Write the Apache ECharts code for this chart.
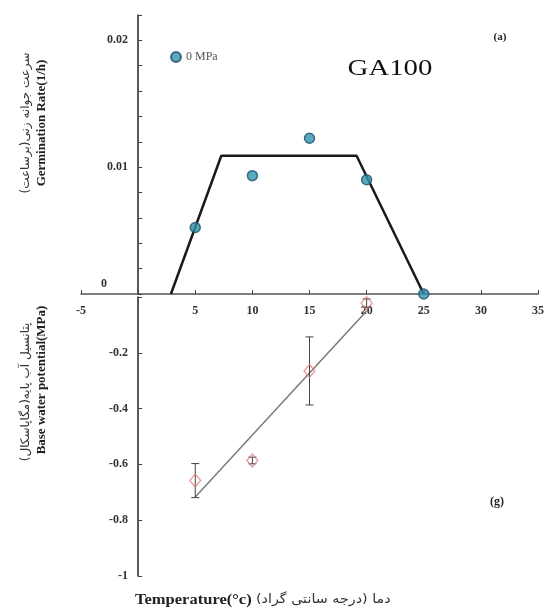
<!DOCTYPE html>
<html><head><meta charset="utf-8">
<script src="https://cdn.jsdelivr.net/npm/echarts@6/dist/echarts.min.js"></script>
<style>html,body{margin:0;background:#fff}#c{width:547px;height:610px}</style>
</head><body><div id="c"></div>
<script>
// ---- data ----
const temps = [5, 10, 15, 20, 25];
const rate0MPa = [0.00524, 0.00933, 0.01228, 0.00901, 0];
const rateModelX = [2.87, 7.28, 19.12, 25];
const rateModelY = [0, 0.0109, 0.0109, 0];
const baseTemps = [5, 10, 15, 20];
const baseWP = [-0.658, -0.586, -0.265, -0.022];
const baseErr = [0.061, 0.012, 0.122, 0.015];
const fitX = [5, 20];
const fitY = [-0.717, -0.05];

const serif = 'Liberation Serif';
const chart = echarts.init(document.getElementById('c'));

function errItem(params, api) {
  const x = api.value(0), y = api.value(1), e = api.value(2);
  const t = api.coord([x, y + e]), b = api.coord([x, y - e]);
  const w = 4, st = {stroke: '#444', lineWidth: 1};
  return {type: 'group', children: [
    {type: 'line', shape: {x1: t[0], y1: t[1], x2: b[0], y2: b[1]}, style: st},
    {type: 'line', shape: {x1: t[0] - w, y1: t[1], x2: t[0] + w, y2: t[1]}, style: st},
    {type: 'line', shape: {x1: b[0] - w, y1: b[1], x2: b[0] + w, y2: b[1]}, style: st}
  ]};
}

const option = {
  backgroundColor: '#fff',
  animation: false,
  grid: [
    {left: 81, right: 9, top: 15, height: 279},
    {left: 81, right: 9, top: 297, height: 279}
  ],
  legend: {
    data: ['0 MPa'], left: 165, top: 46, icon: 'circle', itemWidth: 10, itemHeight: 10,
    textStyle: {fontFamily: serif, fontSize: 12, color: '#555'}
  },
  xAxis: [
    {gridIndex: 0, type: 'value', min: -5, max: 35, interval: 5,
     axisLine: {onZero: true, lineStyle: {color: '#555', width: 1.5}},
     axisTick: {inside: true, length: 4, lineStyle: {color: '#444'}},
     axisLabel: {fontFamily: serif, fontWeight: 'bold', fontSize: 12, color: '#333', margin: 11,
                 formatter: v => v === 0 ? '' : String(v)},
     splitLine: {show: false}},
    {gridIndex: 1, type: 'value', min: -5, max: 35, interval: 5, show: false, splitLine: {show: false}}
  ],
  yAxis: [
    {gridIndex: 0, type: 'value', min: 0, max: 0.022, interval: 0.002,
     axisLine: {show: true, onZero: true, lineStyle: {color: '#222', width: 1.5}},
     axisTick: {inside: true, length: 4, lineStyle: {color: '#444'}},
     axisLabel: {fontFamily: serif, fontWeight: 'bold', fontSize: 12, color: '#333', margin: -47,
                 formatter: v => {
                   const k = Math.round(v * 1000);
                   if (k % 10 !== 0) return '';
                   if (k === 0) return '{z|0}';
                   return (k / 1000).toFixed(2);
                 },
                 rich: {z: {fontFamily: serif, fontWeight: 'bold', fontSize: 12, color: '#333', padding: [0, 21, 20, 0]}}},
     splitLine: {show: false}},
    {gridIndex: 1, type: 'value', min: -1, max: 0, interval: 0.2,
     axisLine: {show: true, onZero: true, lineStyle: {color: '#222', width: 1.5}},
     axisTick: {inside: true, length: 4, lineStyle: {color: '#444'}},
     axisLabel: {fontFamily: serif, fontWeight: 'bold', fontSize: 12, color: '#333', margin: -47,
                 formatter: v => Math.abs(v) < 1e-9 ? '' : (Math.abs(v + 1) < 1e-9 ? '-1' : v.toFixed(1))},
     splitLine: {show: false}}
  ],
  series: [
    {name: 'model', type: 'line', xAxisIndex: 0, yAxisIndex: 0, symbol: 'none',
     lineStyle: {color: '#1a1a1a', width: 2.5}, z: 2,
     data: rateModelX.map((x, i) => [x, rateModelY[i]])},
    {name: '0 MPa', type: 'scatter', xAxisIndex: 0, yAxisIndex: 0, symbol: 'circle', symbolSize: 10,
     itemStyle: {color: '#3394ae', borderColor: '#1e4f6c', borderWidth: 1.5}, z: 3,
     data: temps.map((t, i) => [t, rate0MPa[i]])},
    {name: 'fit', type: 'line', xAxisIndex: 1, yAxisIndex: 1, symbol: 'none',
     lineStyle: {color: '#7a7a7a', width: 1.5}, z: 2,
     data: fitX.map((x, i) => [x, fitY[i]])},
    {name: 'err', type: 'custom', xAxisIndex: 1, yAxisIndex: 1, renderItem: errItem, z: 3,
     data: baseTemps.map((t, i) => [t, baseWP[i], baseErr[i]])},
    {name: 'base', type: 'scatter', xAxisIndex: 1, yAxisIndex: 1, symbol: 'diamond', symbolSize: [11, 13],
     itemStyle: {color: 'rgba(255,255,255,0)', borderColor: '#e07878', borderWidth: 1.2}, z: 4,
     data: baseTemps.map((t, i) => [t, baseWP[i]])}
  ],
  graphic: [
    {type: 'text', x: 390, y: 69, scaleX: 1.2,
     style: {text: 'GA100', fontFamily: serif, fontSize: 24, fill: '#111', align: 'center', verticalAlign: 'middle'}},
    {type: 'text', x: 500, y: 37, style: {text: '(a)', fontFamily: serif, fontWeight: 'bold', fontSize: 11, fill: '#222', align: 'center', verticalAlign: 'middle'}},
    {type: 'text', x: 497, y: 502, style: {text: '(g)', fontFamily: serif, fontWeight: 'bold', fontSize: 12, fill: '#222', align: 'center', verticalAlign: 'middle'}},
    {type: 'text', x: 26, y: 123, rotation: Math.PI / 2,
     style: {text: 'سرعت جوانه زنی(برساعت)', fontFamily: 'DejaVu Sans', fontSize: 12, fill: '#333', align: 'center', verticalAlign: 'middle'}},
    {type: 'text', x: 42, y: 123, rotation: Math.PI / 2,
     style: {text: 'Germination Rate(1/h)', fontFamily: serif, fontWeight: 'bold', fontSize: 13, fill: '#222', align: 'center', verticalAlign: 'middle'}},
    {type: 'text', x: 26, y: 392, rotation: Math.PI / 2,
     style: {text: 'پتانسیل آب پایه(مگاپاسکال)', fontFamily: 'DejaVu Sans', fontSize: 12, fill: '#333', align: 'center', verticalAlign: 'middle'}},
    {type: 'text', x: 42, y: 380, rotation: Math.PI / 2,
     style: {text: 'Base water potential(MPa)', fontFamily: serif, fontWeight: 'bold', fontSize: 13, fill: '#222', align: 'center', verticalAlign: 'middle'}},
    {type: 'text', x: 135, y: 600, scaleX: 1.18,
     style: {text: 'Temperature(°c)', fontFamily: serif, fontWeight: 'bold', fontSize: 14, fill: '#222', align: 'left', verticalAlign: 'middle'}},
    {type: 'text', x: 256, y: 600, scaleX: 1.1,
     style: {text: 'دما (درجه سانتی گراد)', fontFamily: 'DejaVu Sans', fontSize: 13, fill: '#333', align: 'left', verticalAlign: 'middle'}}
  ]
};
chart.setOption(option);
</script></body></html>
